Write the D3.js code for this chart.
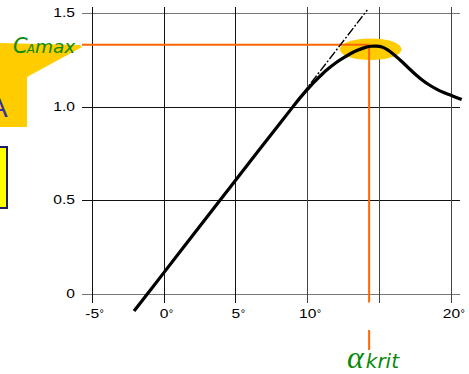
<!DOCTYPE html>
<html>
<head>
<meta charset="utf-8">
<script src="https://cdn.jsdelivr.net/npm/d3@7"></script>
<style>
  body { margin: 0; background: #fff; }
  svg { display: block; }
</style>
</head>
<body>
<div id="chart"></div>
<script>
// lift curve C_A over angle of attack (degrees)
const alphaDeg = [-2.05, -1.1, 0, 2, 4, 6, 8, 9, 9.5, 10, 10.5, 11, 11.5, 12, 12.5, 13, 13.5, 14, 14.4, 14.8, 15.2, 15.6, 16, 16.5, 17, 17.5, 18, 18.5, 19, 19.5, 20, 20.75];
const liftCoef = [-0.094, 0, 0.109, 0.307, 0.505, 0.703, 0.9, 0.998, 1.046, 1.09, 1.132, 1.17, 1.204, 1.234, 1.259, 1.282, 1.301, 1.315, 1.322, 1.323, 1.318, 1.303, 1.28, 1.246, 1.21, 1.174, 1.142, 1.115, 1.093, 1.075, 1.06, 1.037];

// linear extension (dash-dot)
const tangentAlpha = [9.0, 14.18];
const tangentCoef = [1.0, 1.516];

const xTicks = [-5, 0, 5, 10, 15, 20];
const xTickLabels = ['-5', '0', '5', '10', '', '20'];
const yTicks = [0, 0.5, 1.0, 1.5];
const yTickLabels = ['0', '0.5', '1.0', '1.5'];

const caMax = 1.33;
const alphaKrit = 14.31;
const highlight = [14.42, 1.306];   // centre of the yellow ellipse
const highlightR = [2.15, 0.058];   // radii in deg / C_A

const width = 469, height = 374;
const gridLeft = 82, gridRight = 460, gridTop = 7, gridBottom = 302.5;

const svg = d3.select('#chart').append('svg')
    .attr('width', width)
    .attr('height', height);

const x = d3.scaleLinear().domain([-5, 20]).range([91.65, 450.9]);
const y = d3.scaleLinear().domain([0, 1.5]).range([293.5, 13]);

// y axis / horizontal grid
const yAxis = svg.append('g')
    .attr('transform', `translate(${gridLeft},0)`)
    .call(d3.axisLeft(y)
        .tickValues(yTicks)
        .tickSize(-(gridRight - gridLeft))
        .tickPadding(5.4)
        .tickFormat((d, i) => yTickLabels[i]));
yAxis.select('.domain').remove();
yAxis.selectAll('.tick line')
    .attr('stroke', d => (d === 0 || d === 1.5) ? '#777' : '#111')
    .attr('shape-rendering', 'crispEdges');
yAxis.selectAll('.tick text')
    .attr('font-family', 'Liberation Sans, Arial, sans-serif')
    .attr('font-size', 12)
    .attr('fill', '#000')
    .attr('transform', 'scale(1.3,1)');

// x axis / vertical grid
const xAxis = svg.append('g')
    .attr('transform', `translate(0,${gridBottom})`)
    .call(d3.axisBottom(x)
        .tickValues(xTicks)
        .tickSize(-(gridBottom - gridTop))
        .tickPadding(6.5)
        .tickFormat((d, i) => xTickLabels[i]));
xAxis.select('.domain').remove();
xAxis.selectAll('.tick line')
    .attr('stroke', d => d >= 10 ? '#444' : '#111')
    .attr('shape-rendering', 'crispEdges');
xAxis.selectAll('.tick text')
    .attr('font-family', 'Liberation Sans, Arial, sans-serif')
    .attr('font-size', 12)
    .attr('fill', '#000')
    .attr('transform', 'scale(1.3,1)')
    .each(function (d) {
        const t = d3.select(this);
        if (!t.text()) return;
        const w = this.getComputedTextLength();
        d3.select(this.parentNode).append('text')
            .attr('x', w * 1.3 / 2 + 0.5)
            .attr('y', t.attr('y'))
            .attr('dy', t.attr('dy'))
            .attr('font-family', 'Liberation Sans, Arial, sans-serif')
            .attr('font-size', 11)
            .attr('fill', '#000')
            .attr('text-anchor', 'start')
            .text('°');
    });

// yellow highlight round the maximum
svg.append('ellipse')
    .attr('cx', x(highlight[0]))
    .attr('cy', y(highlight[1]))
    .attr('rx', x(highlight[0] + highlightR[0]) - x(highlight[0]))
    .attr('ry', y(highlight[1] - highlightR[1]) - y(highlight[1]))
    .attr('fill', '#FFCC00');

// orange guide lines
svg.append('line')
    .attr('x1', gridLeft).attr('x2', x(alphaKrit))
    .attr('y1', y(caMax)).attr('y2', y(caMax))
    .attr('stroke', '#FF6600').attr('stroke-width', 2);
svg.append('line')
    .attr('x1', x(alphaKrit)).attr('x2', x(alphaKrit))
    .attr('y1', y(caMax)).attr('y2', gridBottom)
    .attr('stroke', '#FF6600').attr('stroke-width', 2);
svg.append('line')
    .attr('x1', x(alphaKrit)).attr('x2', x(alphaKrit))
    .attr('y1', 330).attr('y2', 350)
    .attr('stroke', '#FF6600').attr('stroke-width', 2);

// dash-dot extension of the linear part
svg.append('path')
    .datum(d3.zip(tangentAlpha, tangentCoef))
    .attr('fill', 'none')
    .attr('stroke', '#000')
    .attr('stroke-width', 1.4)
    .attr('stroke-dasharray', '9,2,2,2')
    .attr('d', d3.line().x(d => x(d[0])).y(d => y(d[1])));

// lift curve
svg.append('path')
    .datum(d3.zip(alphaDeg, liftCoef))
    .attr('fill', 'none')
    .attr('stroke', '#000')
    .attr('stroke-width', 3.2)
    .attr('stroke-linecap', 'butt')
    .attr('d', d3.line().x(d => x(d[0])).y(d => y(d[1])).curve(d3.curveCatmullRom.alpha(0.5)));

// left callout pieces
svg.append('path')
    .attr('d', 'M0,43 L80,45 L82,47 L27,77 L27,127 L0,127 Z')
    .attr('fill', '#FFCC00');
svg.append('text')
    .attr('x', -11).attr('y', 117)
    .attr('font-family', 'Liberation Sans, Arial, sans-serif')
    .attr('font-size', 28)
    .attr('fill', '#333399')
    .text('A');
svg.append('rect')
    .attr('x', -10).attr('y', 147)
    .attr('width', 17).attr('height', 61)
    .attr('fill', '#FFFF00')
    .attr('stroke', '#1a1a70')
    .attr('stroke-width', 2);

// C_A max label
const caLabel = svg.append('text')
    .attr('x', 13).attr('y', 53)
    .attr('font-family', 'DejaVu Sans, Verdana, sans-serif')
    .attr('font-style', 'italic')
    .attr('fill', '#0a8a0a');
caLabel.append('tspan').attr('font-size', 21).text('C');
caLabel.append('tspan').attr('font-size', 12).attr('dx', -1).text('A');
caLabel.append('tspan').attr('font-size', 18.5).text('max');

// alpha krit label
const akLabel = svg.append('text')
    .attr('x', 347).attr('y', 368)
    .attr('fill', '#0a8a0a')
    .attr('font-style', 'italic');
akLabel.append('tspan')
    .attr('font-family', 'Liberation Serif, Times New Roman, serif')
    .attr('font-size', 32)
    .text('α');
akLabel.append('tspan')
    .attr('font-family', 'DejaVu Sans, Verdana, sans-serif')
    .attr('font-size', 20)
    .attr('dx', 2)
    .text('krit');
</script>
</body>
</html>
